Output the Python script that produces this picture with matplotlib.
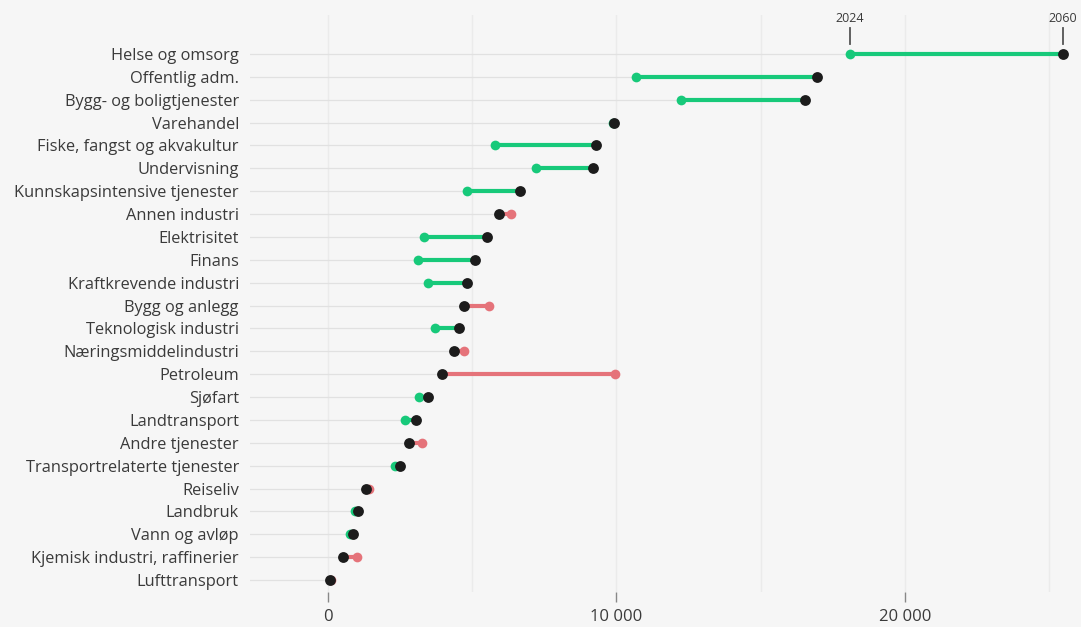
import matplotlib.pyplot as plt
from matplotlib.ticker import FuncFormatter

# Sysselsetting per næring, 2024 og framskrevet 2060
categories = [
    "Helse og omsorg", "Offentlig adm.", "Bygg- og boligtjenester", "Varehandel",
    "Fiske, fangst og akvakultur", "Undervisning", "Kunnskapsintensive tjenester",
    "Annen industri", "Elektrisitet", "Finans", "Kraftkrevende industri",
    "Bygg og anlegg", "Teknologisk industri", "Næringsmiddelindustri", "Petroleum",
    "Sjøfart", "Landtransport", "Andre tjenester", "Transportrelaterte tjenester",
    "Reiseliv", "Landbruk", "Vann og avløp", "Kjemisk industri, raffinerier",
    "Lufttransport",
]
values_2024 = [18100, 10680, 12240, 9880, 5790, 7210, 4820, 6340, 3330, 3120,
               3470, 5580, 3710, 4710, 9950, 3150, 2670, 3260, 2320, 1420,
               940, 760, 1000, 110]
values_2060 = [25480, 16950, 16530, 9910, 9290, 9190, 6660, 5930, 5510, 5100,
               4820, 4710, 4540, 4370, 3950, 3470, 3050, 2810, 2500, 1320,
               1040, 870, 520, 70]
xticks = [0, 10000, 20000]
year_labels = ["2024", "2060"]

GREEN = "#17c97a"
RED = "#e5737a"
DARK = "#1c1c1c"
BG = "#f6f6f6"
TEXT = "#3a3a3a"

plt.rcParams["font.family"] = ["Open Sans", "DejaVu Sans"]

fig = plt.figure(figsize=(10.81, 6.27), dpi=100, facecolor=BG)
ax = fig.add_axes([250 / 1081, 1 - 592 / 627, 825 / 1081, 577 / 627], facecolor=BG)

xmin, xmax = -2704, 25893
ax.set_xlim(xmin, xmax)
ax.set_ylim(23.52, -1.705)

# vertical grid every 5000
for gx in range(0, 25001, 5000):
    ax.axvline(gx, color="#ebebeb", lw=1.0, zorder=0)

for i, (a, b) in enumerate(zip(values_2024, values_2060)):
    col = GREEN if b >= a else RED
    ax.plot([xmin, min(a, b)], [i, i], color="#e1e1e1", lw=0.9, zorder=1)
    ax.plot([a, b], [i, i], color=col, lw=3.0, solid_capstyle="butt", zorder=2)
    ax.plot(a, i, "o", color=col, ms=7.0, mec="none", zorder=3)
    ax.plot(b, i, "o", color=DARK, ms=7.8, mec="none", zorder=4)

# year markers above the first row
for val, lab in zip([values_2024[0], values_2060[0]], year_labels):
    ax.plot([val, val], [-0.43, -1.15], color="#555555", lw=1.3, zorder=2, clip_on=False)
    ax.text(val, -1.27, lab, ha="center", va="bottom", fontsize=9, color=TEXT)

ax.set_yticks(range(len(categories)))
ax.set_yticklabels(categories, fontsize=11.8, color=TEXT)
ax.tick_params(axis="y", length=0, pad=8)

ax.set_xticks(xticks)
ax.xaxis.set_major_formatter(FuncFormatter(lambda v, p: f"{int(v):,}".replace(",", " ")))
ax.tick_params(axis="x", length=7, width=1, color="#888888", pad=5,
               labelsize=12, labelcolor=TEXT, direction="out")

for s in ax.spines.values():
    s.set_visible(False)

fig.savefig("out.png", dpi=100, facecolor=BG)
